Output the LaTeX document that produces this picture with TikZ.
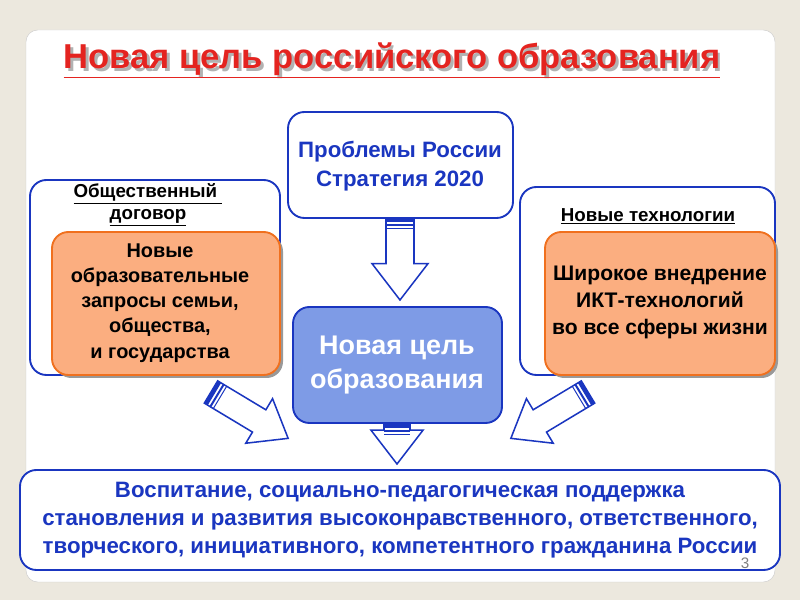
\documentclass[tikz,border=0pt]{standalone}
\usepackage{fontspec}
\setmainfont{Liberation Sans}
\begin{document}
\begin{tikzpicture}[x=0.03cm,y=-0.03cm,
  blu/.style={draw=myblue,line width=1.6pt},
  outer/.style={blu,rounded corners=14pt,fill=white},
  orng/.style={draw=myorange,line width=1.6pt,fill=myfill,rounded corners=14pt},
  lbl/.style={font=\bfseries\fontsize{16}{19}\selectfont,align=center,text=black}]
\definecolor{myblue}{HTML}{1A36C0}
\definecolor{myorange}{HTML}{F0701E}
\definecolor{myfill}{HTML}{FBAE80}
\definecolor{cent}{HTML}{7E9BE6}
\definecolor{bg}{HTML}{ECE8DE}
\definecolor{ttl}{HTML}{E42420}
\newcommand{\barrow}[6]{% x y angle length shaftw headw
 \begin{scope}[shift={(#1,#2)},rotate=#3]
  \draw[myblue,line width=1.3pt,fill=white] (0,-#5/2)--(#4-#6*0.65,-#5/2)--(#4-#6*0.65,-#6/2)--(#4,0)--(#4-#6*0.65,#6/2)--(#4-#6*0.65,#5/2)--(0,#5/2)--cycle;
  \fill[myblue] (0,-#5/2) rectangle (4,#5/2);
  \fill[myblue] (6,-#5/2) rectangle (8,#5/2);
  \fill[myblue] (10,-#5/2) rectangle (11,#5/2);
 \end{scope}}
\useasboundingbox (0,0) rectangle (800,600);
\fill[bg] (0,0) rectangle (800,600);
\fill[white,rounded corners=10pt] (26,30) rectangle (775,582);
\draw[gray!40] (26,30) [rounded corners=10pt] rectangle (775,582);
\node (shadow) [font=\bfseries\fontsize{29.5}{34}\selectfont,text=black!30] at (394.5,62.5) {Новая цель российского образования};
\node (title) [font=\bfseries\fontsize{29.5}{34}\selectfont,text=ttl] at (392,60) {\underline{Новая цель российского образования}};
% left
\draw[outer] (30,180) rectangle (280,375);
\node (ll) [lbl] at (148,205) {\underline{Общественный }\\\underline{договор}};
\fill[black!40,rounded corners=14pt] (55,235) rectangle (283,378);
\draw[orng] (52,232) rectangle (280,375);
\node (lt) [lbl,font=\bfseries\fontsize{17}{21.5}\selectfont] at (160,303) {Новые\\образовательные\\ запросы семьи,\\общества,\\и государства};
% right
\draw[outer] (520,187) rectangle (775,375);
\node (rl) [lbl] at (648,216) {\underline{Новые технологии}};
\fill[black!40,rounded corners=14pt] (548,235) rectangle (778,378);
\draw[orng] (545,232) rectangle (775,375);
\node (rt) [lbl,font=\bfseries\fontsize{18}{23}\selectfont] at (660,302) {Широкое внедрение\\ИКТ-технологий\\ во все сферы жизни};
% top
\draw[outer] (288,112) rectangle (513,218);
\node (top) [font=\bfseries\fontsize{19}{25}\selectfont,text=myblue,align=center] at (400,166) {Проблемы России\\Стратегия 2020};
% center
\draw[blu,fill=cent,rounded corners=14pt] (293,307) rectangle (502,423);
\node (c) [font=\bfseries\fontsize{23}{29}\selectfont,text=white,align=center] at (397,365) {Новая цель\\образования};
% bottom
\draw[outer] (20,470) rectangle (780,570);
\node (b) [font=\bfseries\fontsize{19}{23.8}\selectfont,text=myblue,align=center] at (400,520) {Воспитание, социально-педагогическая поддержка\\становления и развития высоконравственного, ответственного,\\творческого, инициативного, компетентного гражданина России};
\node (num) [text=gray,font=\fontsize{13}{14}\selectfont] at (745,563) {3};
% arrows
\barrow{400}{218}{-90}{82}{28}{56}
\barrow{397}{424}{-90}{40}{26}{52}
\barrow{211}{392}{-31}{90}{26}{52}
\barrow{588}{392}{-149}{90}{26}{52}
\end{tikzpicture}
\end{document}
